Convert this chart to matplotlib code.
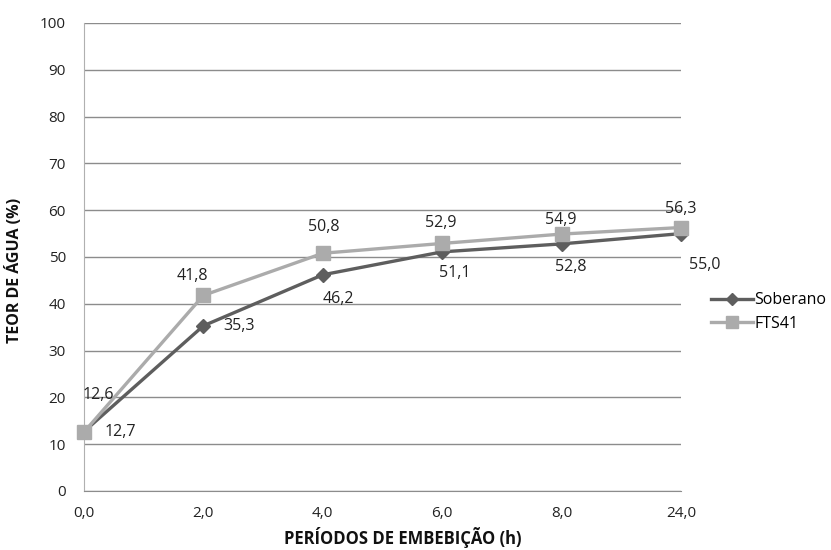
import numpy as np
import matplotlib
matplotlib.use("Agg")
from matplotlib import pyplot as plt

periodos = ["0,0", "2,0", "4,0", "6,0", "8,0", "24,0"]
soberano = [12.7, 35.3, 46.2, 51.1, 52.8, 55.0]
fts41 = [12.6, 41.8, 50.8, 52.9, 54.9, 56.3]

# offsets des etiquettes (pixels)
off_sob = [(36, 0), (36, 0), (16, -24), (13, -21), (9, -23), (24, -31)]
off_fts = [(14, 37), (-11, 19), (1, 26), (-1, 20), (-1, 14), (0, 19)]

plt.rcParams['font.family'] = ['Open Sans', 'DejaVu Sans']

fig = plt.figure(figsize=(8.31, 5.5), dpi=100)
ax = fig.add_axes([84/831, 1-491/550, (681-84)/831, (491-23)/550])

x = np.arange(len(periodos))
c_sob = '#5e5e5e'
c_fts = '#ababab'

ax.plot(x, soberano, color=c_sob, lw=2.4, marker='D', ms=7.5, clip_on=False,
        zorder=3, label="Soberano")
ax.plot(x, fts41, color=c_fts, lw=2.4, marker='s', ms=10, clip_on=False,
        zorder=4, label="FTS41")

fmt = lambda v: "{:.1f}".format(v).replace('.', ',')
for i in range(len(x)):
    ax.annotate(fmt(soberano[i]), (x[i], soberano[i]), xytext=off_sob[i],
                textcoords='offset pixels', ha='center', va='center',
                fontsize=11.5, color='#222222', zorder=6)
    ax.annotate(fmt(fts41[i]), (x[i], fts41[i]), xytext=off_fts[i],
                textcoords='offset pixels', ha='center', va='center',
                fontsize=11.5, color='#222222', zorder=6)

ax.set_xlim(0, 5)
ax.set_ylim(0, 100)
ax.set_yticks(np.arange(0, 101, 10))
ax.set_xticks(x)
ax.set_xticklabels(periodos)
ax.yaxis.grid(True, color='#8c8c8c', lw=1)
ax.set_axisbelow(True)
ax.tick_params(length=0, labelsize=11, colors='#222222')
ax.tick_params(axis='y', pad=13)
ax.tick_params(axis='x', pad=11)
for s in ['top', 'right']:
    ax.spines[s].set_visible(False)
ax.spines['left'].set_color('#b0b0b0')
ax.spines['bottom'].set_color('#8c8c8c')

fig.text(403/831, 1-538/550, "PERÍODOS DE EMBEBIÇÃO (h)", ha='center',
         va='center', fontsize=12, fontweight='bold', color='#111111')
fig.text(15/831, 1-270/550, "TEOR DE ÁGUA (%)", ha='center', va='center',
         rotation=90, fontsize=11.5, fontweight='bold', color='#111111')

ax.legend(loc='center left', bbox_to_anchor=(705/831, 1-312/550),
          bbox_transform=fig.transFigure, frameon=False, fontsize=11.5,
          handlelength=2.6, handletextpad=0.1, labelspacing=0.45,
          borderaxespad=0, markerscale=0.8)

fig.savefig("out.png", dpi=100)
